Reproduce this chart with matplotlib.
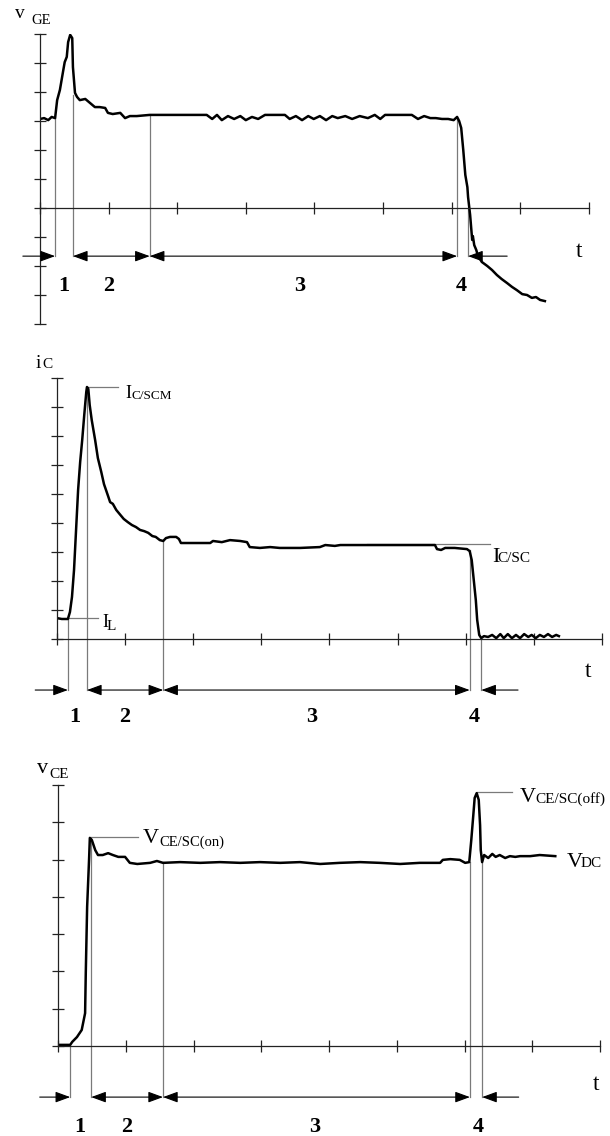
import matplotlib
matplotlib.use("Agg")
import matplotlib.pyplot as plt
from matplotlib.patches import ArrowStyle

plt.rcParams['font.family'] = ['Liberation Serif', 'DejaVu Serif']

# ---------------- data (time and amplitude in grid divisions) ----------------
vge_t = [0.00, 0.06, 0.12, 0.17, 0.22, 0.25, 0.29, 0.34, 0.36, 0.39, 0.41, 0.44, 0.47, 0.48,
         0.51, 0.54, 0.58, 0.66, 0.73, 0.80, 0.87, 0.95, 0.99, 1.06, 1.17, 1.24, 1.31, 1.41,
         1.60, 1.90, 2.19, 2.43, 2.51, 2.58, 2.65, 2.74, 2.83, 2.92, 3.00, 3.09, 3.18, 3.28,
         3.57, 3.64, 3.73, 3.82, 3.91, 3.99, 4.08, 4.17, 4.26, 4.34, 4.45, 4.55, 4.66, 4.78,
         4.88, 4.96, 5.03, 5.42, 5.51, 5.60, 5.69, 5.77, 5.86, 5.95, 6.03, 6.08, 6.11, 6.14,
         6.17, 6.20, 6.23, 6.24, 6.27, 6.30, 6.31, 6.33, 6.36, 6.38, 6.44, 6.52, 6.59, 6.66,
         6.73, 6.81, 6.88, 6.95, 7.03, 7.10, 7.17, 7.23, 7.29, 7.36]
vge_v = [3.07, 3.10, 3.03, 3.14, 3.10, 3.72, 4.07, 4.76, 5.03, 5.21, 5.72, 5.97, 5.86, 4.86,
         3.97, 3.83, 3.72, 3.76, 3.62, 3.48, 3.48, 3.45, 3.28, 3.24, 3.28, 3.10, 3.17, 3.17,
         3.21, 3.21, 3.21, 3.21, 3.07, 3.21, 3.03, 3.17, 3.07, 3.17, 3.03, 3.14, 3.07, 3.21,
         3.21, 3.07, 3.17, 3.03, 3.17, 3.07, 3.17, 3.03, 3.17, 3.10, 3.17, 3.07, 3.17, 3.10,
         3.21, 3.07, 3.21, 3.21, 3.07, 3.17, 3.10, 3.10, 3.07, 3.07, 3.03, 3.14, 3.00, 2.76,
         2.00, 1.14, 0.72, 0.38, -0.24, -1.10, -0.97, -1.28, -1.45, -1.62, -1.86, -2.00, -2.14, -2.31,
         -2.45, -2.59, -2.72, -2.83, -2.97, -3.00, -3.10, -3.07, -3.17, -3.21]

ic_t = [0.00, 0.07, 0.16, 0.19, 0.22, 0.25, 0.28, 0.31, 0.34, 0.37, 0.40, 0.43, 0.44, 0.46,
        0.48, 0.51, 0.56, 0.60, 0.65, 0.69, 0.75, 0.78, 0.82, 0.87, 0.93, 0.98, 1.04, 1.10,
        1.16, 1.22, 1.28, 1.34, 1.40, 1.45, 1.51, 1.56, 1.60, 1.66, 1.75, 1.79, 1.82, 2.03,
        2.25, 2.29, 2.42, 2.54, 2.69, 2.79, 2.83, 2.98, 3.13, 3.27, 3.57, 3.86, 3.94, 4.08,
        4.16, 4.45, 4.74, 5.04, 5.33, 5.55, 5.58, 5.64, 5.70, 5.84, 6.02, 6.06, 6.09, 6.12,
        6.15, 6.17, 6.20, 6.23, 6.27, 6.33, 6.39, 6.45, 6.51, 6.56, 6.62, 6.68, 6.74, 6.80,
        6.86, 6.92, 6.97, 7.03, 7.09, 7.15, 7.21, 7.27, 7.33, 7.37]
ic_v = [0.72, 0.69, 0.69, 0.93, 1.45, 2.38, 3.76, 5.14, 6.10, 6.86, 7.72, 8.52, 8.69, 8.62,
        8.07, 7.55, 6.86, 6.24, 5.76, 5.34, 4.93, 4.72, 4.66, 4.45, 4.28, 4.14, 4.03, 3.93,
        3.86, 3.76, 3.72, 3.66, 3.55, 3.52, 3.41, 3.38, 3.48, 3.52, 3.52, 3.45, 3.31, 3.31,
        3.31, 3.38, 3.34, 3.41, 3.38, 3.34, 3.17, 3.14, 3.17, 3.14, 3.14, 3.17, 3.24, 3.21,
        3.24, 3.24, 3.24, 3.24, 3.24, 3.24, 3.10, 3.07, 3.14, 3.14, 3.10, 3.03, 2.72, 2.03,
        1.34, 0.66, 0.14, 0.03, 0.10, 0.07, 0.14, 0.03, 0.17, 0.03, 0.17, 0.03, 0.14, 0.03,
        0.17, 0.07, 0.14, 0.03, 0.14, 0.07, 0.17, 0.07, 0.14, 0.10]

vce_t = [0.00, 0.09, 0.18, 0.21, 0.28, 0.35, 0.40, 0.41, 0.43, 0.46, 0.47, 0.50, 0.55, 0.59,
         0.66, 0.74, 0.81, 0.89, 0.99, 1.06, 1.17, 1.36, 1.46, 1.55, 1.80, 2.10, 2.39, 2.69,
         2.98, 3.28, 3.57, 3.87, 4.16, 4.46, 4.75, 5.05, 5.34, 5.64, 5.68, 5.79, 5.93, 6.01,
         6.07, 6.10, 6.13, 6.15, 6.18, 6.21, 6.23, 6.24, 6.26, 6.29, 6.35, 6.41, 6.46, 6.52,
         6.60, 6.67, 6.75, 6.82, 6.97, 7.11, 7.34]
vce_v = [0.03, 0.03, 0.03, 0.11, 0.24, 0.43, 0.88, 1.96, 3.73, 5.07, 5.58, 5.52, 5.25, 5.12,
         5.12, 5.17, 5.12, 5.07, 5.07, 4.91, 4.88, 4.91, 4.96, 4.91, 4.93, 4.91, 4.93, 4.91,
         4.93, 4.91, 4.93, 4.88, 4.91, 4.93, 4.91, 4.88, 4.91, 4.91, 4.99, 5.01, 4.99, 4.91,
         4.93, 5.52, 6.19, 6.65, 6.78, 6.60, 5.92, 5.25, 4.93, 5.12, 5.04, 5.15, 5.07, 5.12,
         5.04, 5.09, 5.07, 5.09, 5.09, 5.12, 5.09]

# interval boundaries (times) and the signal level where each marker line starts
vge_bounds = [0.22, 0.48, 1.60, 6.08, 6.24]
vge_bound_top = [3.10, 3.90, 3.21, 3.10, 0.0]
ic_bounds = [0.16, 0.44, 1.56, 6.06, 6.23]
ic_bound_top = [0.69, 8.69, 3.38, 3.07, 0.0]
vce_bounds = [0.18, 0.49, 1.55, 6.08, 6.26]
vce_bound_top = [0.0, 5.58, 4.93, 4.93, 5.04]
interval_labels = ['1', '2', '3', '4']

FIG_W, FIG_H = 610, 1136
fig = plt.figure(figsize=(FIG_W / 100, FIG_H / 100), dpi=100)

SIG = dict(color='black', lw=1.8, solid_joinstyle='round')
MARK = dict(color='#7a7a7a', lw=0.9, clip_on=False)


def add_panel(x0, y0, dx, dy, ylo, yhi):
    ax = fig.add_axes([x0 / FIG_W, 1 - (y0 - ylo * dy) / FIG_H,
                       8 * dx / FIG_W, (yhi - ylo) * dy / FIG_H])
    ax.set_xlim(0, 8)
    ax.set_ylim(ylo, yhi)
    ax.patch.set_alpha(0)
    for s in ('top', 'right'):
        ax.spines[s].set_visible(False)
    ax.spines['bottom'].set_position(('data', 0))
    for s in ('left', 'bottom'):
        ax.spines[s].set_linewidth(0.9)
        ax.spines[s].set_color('#222222')
    ax.set_xticks(range(0, 9))
    ax.set_yticks(range(ylo, yhi + 1))
    ax.tick_params(direction='inout', length=9, width=0.9, color='#222222',
                   labelbottom=False, labelleft=False)
    return ax


def arrows(ax, bounds, y, left_start, right_end):
    st_r = ArrowStyle('-|>', head_length=0.6, head_width=0.22)
    st_b = ArrowStyle('<|-|>', head_length=0.6, head_width=0.22)
    kw = dict(color='black', lw=0.8, shrinkA=0, shrinkB=0, mutation_scale=15)
    ax.annotate('', xy=(bounds[0], y), xytext=(left_start, y),
                arrowprops=dict(arrowstyle=st_r, **kw), annotation_clip=False)
    ax.annotate('', xy=(bounds[2], y), xytext=(bounds[1], y),
                arrowprops=dict(arrowstyle=st_b, **kw), annotation_clip=False)
    ax.annotate('', xy=(bounds[3], y), xytext=(bounds[2], y),
                arrowprops=dict(arrowstyle=st_b, **kw), annotation_clip=False)
    ax.annotate('', xy=(bounds[4], y), xytext=(right_end, y),
                arrowprops=dict(arrowstyle=st_r, **kw), annotation_clip=False)


def markers(ax, bounds, tops, y):
    for b, top in zip(bounds, tops):
        ax.plot([b, b], [top, y], **MARK)


def numbers(ax, xs, y):
    for lab, x in zip(interval_labels, xs):
        ax.text(x, y, lab, ha='center', va='baseline', fontsize=16, fontweight='bold')


def sublabel(ax, main_xy, main, main_size, sub_xy, sub, sub_size):
    ax.text(main_xy[0], main_xy[1], main, fontsize=main_size, ha='left', va='baseline')
    ax.text(sub_xy[0], sub_xy[1], sub, fontsize=sub_size, ha='left', va='baseline')


# ---------------- panel 1: v_GE ----------------
ax1 = add_panel(40, 208, 68.6, 29, -4, 6)
y_arr1 = -1.66
markers(ax1, vge_bounds, vge_bound_top, y_arr1)
ax1.plot(vge_t, vge_v, **SIG)
arrows(ax1, vge_bounds, y_arr1, -0.25, 6.81)
numbers(ax1, [0.34, 1.00, 3.79, 6.14], -2.86)
sublabel(ax1, (-0.36, 6.55), 'v', 14, (-0.12, 6.36), 'GE', 10.5)
ax1.text(7.81, -1.69, 't', fontsize=17, ha='left', va='baseline')

# ---------------- panel 2: i_C ----------------
ax2 = add_panel(57, 639, 68.1, 29, 0, 9)
y_arr2 = -1.76
markers(ax2, ic_bounds, ic_bound_top, y_arr2)
ax2.plot([ic_bounds[0], 0.60], [0.72, 0.72], **MARK)
ax2.plot([ic_bounds[1], 0.90], [8.69, 8.69], **MARK)
ax2.plot([4.55, 6.36], [3.28, 3.28], **MARK)
ax2.plot(ic_t, ic_v, **SIG)
arrows(ax2, ic_bounds, y_arr2, -0.32, 6.77)
numbers(ax2, [0.26, 1.00, 3.74, 6.12], -2.86)
sublabel(ax2, (-0.32, 9.34), 'i', 14, (-0.21, 9.34), 'C', 11)
sublabel(ax2, (1.01, 8.31), 'I', 13, (1.09, 8.28), 'C/SCM', 9.5)
sublabel(ax2, (0.66, 0.41), 'I', 13, (0.73, 0.31), 'L', 11)
sublabel(ax2, (6.39, 2.66), 'I', 16, (6.47, 2.66), 'C/SC', 11)
ax2.text(7.75, -1.31, 't', fontsize=17, ha='left', va='baseline')

# ---------------- panel 3: v_CE ----------------
ax3 = add_panel(58, 1046, 67.75, 37.3, 0, 7)
y_arr3 = -1.37
markers(ax3, vce_bounds, vce_bound_top, y_arr3)
ax3.plot([vce_bounds[1], 1.18], [5.60, 5.60], **MARK)
ax3.plot([6.18, 6.70], [6.81, 6.81], **MARK)
ax3.plot(vce_t, vce_v, **SIG)
arrows(ax3, vce_bounds, y_arr3, -0.27, 6.80)
numbers(ax3, [0.32, 1.02, 3.79, 6.20], -2.31)
sublabel(ax3, (-0.31, 7.32), 'v', 16, (-0.12, 7.18), 'CE', 11)
sublabel(ax3, (1.25, 5.44), 'V', 16, (1.50, 5.36), 'CE/SC(on)', 10.5)
sublabel(ax3, (6.82, 6.54), 'V', 16, (7.05, 6.51), 'CE/SC(off)', 11)
sublabel(ax3, (7.51, 4.80), 'V', 16, (7.72, 4.80), 'DC', 11)
ax3.text(7.90, -1.18, 't', fontsize=17, ha='left', va='baseline')

fig.savefig('out.png', dpi=100)
